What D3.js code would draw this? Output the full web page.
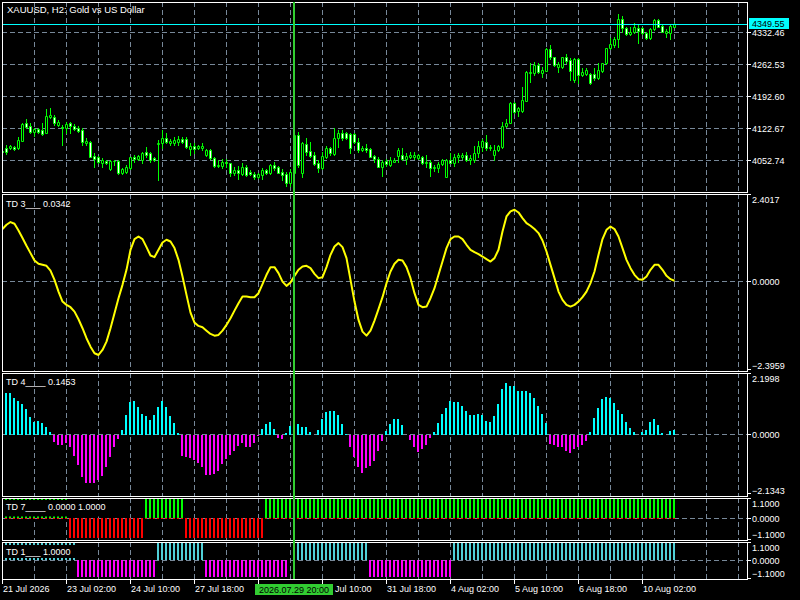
<!DOCTYPE html>
<html><head><meta charset="utf-8">
<script src="https://cdn.jsdelivr.net/npm/d3@7"></script>
<style>
body{margin:0;background:#000}
svg{display:block}
text{font-family:"Liberation Sans",Arial,sans-serif;font-size:9px;fill:#fff}
</style></head><body>
<script>
// ---------------- DATA ----------------
const title = "XAUUSD, H2:  Gold vs US Dollar";
const opens = [4073.1,4080.3,4079.0,4081.8,4080.3,4095.6,4133.6,4127.7,4115.2,4120.5,
4119.0,4113.1,4146.7,4146.7,4129.9,4126.2,4122.7,4133.6,4127.7,4124.0,
4119.0,4091.2,4093.4,4062.1,4059.3,4047.5,4051.2,4033.1,4051.2,4051.2,
4025.7,4027.8,4035.3,4060.6,4054.9,4053.4,4071.5,4069.4,4057.1,4087.7,
4089.9,4102.1,4089.9,4089.9,4093.4,4098.6,4098.6,4076.8,4084.0,4079.0,
4079.0,4064.3,4075.3,4058.4,4040.3,4041.0,4049.7,4046.2,4025.7,4031.6,
4022.8,4038.8,4027.8,4022.8,4015.6,4020.6,4031.6,4025.7,4042.5,4038.8,
4027.8,4022.8,4003.8,4025.7,4108.0,4025.7,4088.4,4073.1,4064.3,4047.5,
4036.6,4060.6,4079.0,4066.5,4100.8,4111.8,4111.8,4110.2,4110.2,4093.4,
4075.3,4080.3,4076.8,4062.1,4054.9,4038.8,4051.2,4042.5,4049.7,4062.1,
4064.3,4054.9,4059.3,4060.6,4057.1,4060.6,4046.2,4049.7,4035.3,4035.3,
4044.7,4016.9,4053.4,4047.5,4059.3,4060.6,4064.3,4053.4,4053.4,4069.4,
4082.5,4093.4,4079.0,4064.3,4075.3,4082.5,4127.7,4134.9,4178.6,4161.1,
4161.1,4183.0,4242.9,4242.9,4261.0,4244.2,4248.6,4295.3,4277.8,4256.0,
4256.0,4277.8,4271.9,4228.2,4273.5,4239.2,4241.3,4241.3,4241.3,4231.9,
4248.6,4264.7,4297.5,4304.7,4317.2,4360.9,4341.2,4328.8,4333.8,4341.2,
4341.2,4331.6,4319.4,4339.0,4359.3,4346.2,4331.6,4331.6,4344.7];
const highs = [4077.5,4086.2,4086.2,4084.0,4103.0,4134.3,4142.3,4134.9,4122.7,4123.3,
4133.6,4164.2,4166.4,4151.7,4140.8,4129.9,4137.1,4137.1,4132.1,4127.7,
4122.7,4100.8,4094.9,4069.4,4062.1,4057.1,4053.4,4053.4,4052.3,4052.3,
4035.3,4042.5,4060.6,4064.3,4064.3,4071.5,4082.5,4071.5,4060.0,4097.1,
4119.0,4111.8,4099.3,4103.0,4105.9,4103.7,4104.3,4091.2,4089.9,4086.2,
4089.9,4077.5,4076.8,4060.6,4053.4,4054.9,4054.9,4047.5,4038.8,4040.3,
4046.2,4042.5,4031.6,4027.8,4025.7,4035.3,4033.7,4044.7,4049.7,4040.3,
4033.1,4027.8,4033.1,4112.4,4115.2,4093.4,4100.8,4093.4,4071.5,4053.4,
4071.5,4084.0,4082.5,4122.7,4119.0,4119.0,4115.2,4111.8,4111.8,4100.8,
4084.0,4087.7,4079.6,4064.3,4060.6,4053.4,4054.9,4059.3,4057.1,4079.0,
4079.0,4068.1,4071.5,4071.5,4066.5,4063.2,4064.3,4053.4,4042.5,4049.7,
4055.6,4054.9,4069.4,4066.5,4069.4,4069.4,4071.5,4064.3,4084.0,4095.6,
4098.6,4108.0,4086.2,4086.2,4086.2,4137.1,4142.3,4180.8,4180.8,4169.9,
4212.3,4247.9,4264.7,4268.2,4264.7,4256.0,4297.5,4304.7,4279.1,4268.2,
4279.1,4285.0,4275.6,4275.6,4275.6,4253.8,4253.8,4244.2,4253.8,4264.7,
4266.0,4298.8,4319.4,4322.9,4372.5,4368.1,4343.4,4343.4,4352.1,4350.6,
4344.7,4333.8,4341.2,4360.9,4362.2,4347.8,4339.0,4350.6,4352.1];
const lows = [4068.7,4066.5,4076.8,4075.3,4076.8,4094.9,4122.7,4111.8,4105.9,4112.4,
4108.0,4111.8,4144.5,4129.9,4127.7,4086.2,4111.8,4111.8,4119.0,4115.2,
4086.2,4086.2,4058.9,4038.8,4046.9,4038.8,4044.7,4031.6,4042.5,4022.8,
4022.8,4025.7,4033.1,4049.7,4053.4,4046.2,4060.6,4049.7,4051.2,4009.7,
4079.0,4089.9,4086.2,4086.2,4086.2,4090.6,4079.0,4064.3,4069.4,4076.8,
4075.3,4062.1,4055.6,4038.8,4038.8,4035.3,4038.8,4018.4,4020.6,4011.2,
4020.6,4018.4,4020.6,4011.2,4013.4,4011.2,4022.8,4022.8,4031.6,4024.3,
4009.7,3996.6,3996.6,4022.8,4038.8,4015.6,4064.3,4060.6,4042.5,4027.8,
4033.1,4057.1,4064.3,4064.3,4082.5,4097.1,4098.6,4069.4,4091.2,4071.5,
4073.1,4071.5,4059.3,4049.7,4037.5,4018.4,4041.0,4040.3,4048.4,4049.7,
4053.4,4044.7,4057.1,4054.9,4055.6,4044.7,4038.8,4018.4,4030.0,4027.8,
4042.5,4016.9,4046.2,4040.3,4049.7,4054.9,4051.9,4044.7,4049.7,4060.6,
4073.7,4075.3,4075.3,4053.4,4073.1,4079.0,4124.9,4133.6,4155.5,4149.6,
4159.0,4182.3,4224.5,4239.2,4242.9,4235.4,4247.9,4273.5,4258.8,4246.4,
4253.8,4264.7,4228.2,4223.9,4222.3,4237.0,4239.2,4219.5,4228.2,4229.8,
4246.4,4263.2,4295.3,4301.0,4301.0,4333.8,4326.6,4327.2,4330.3,4308.4,
4328.1,4317.2,4317.8,4337.5,4343.4,4332.5,4322.9,4317.2,4343.4];
const closes = [4070.9,4071.5,4084.0,4076.8,4097.1,4132.1,4126.2,4114.6,4120.5,4115.2,
4109.6,4149.6,4151.7,4134.9,4137.1,4122.7,4132.1,4127.7,4120.5,4117.4,
4093.4,4095.6,4060.6,4055.6,4049.7,4053.4,4046.2,4051.9,4050.6,4024.3,
4033.1,4038.8,4059.3,4054.9,4062.1,4068.1,4064.3,4053.4,4053.4,4091.2,
4100.8,4093.4,4095.6,4097.1,4098.6,4093.4,4082.5,4084.0,4076.8,4084.0,
4084.7,4075.3,4057.1,4040.3,4042.5,4049.7,4046.2,4025.7,4031.6,4024.3,
4038.8,4020.6,4022.2,4015.6,4022.8,4031.6,4025.7,4042.5,4035.3,4025.7,
4020.6,4003.8,4027.8,4108.0,4042.5,4089.9,4071.5,4062.8,4044.7,4036.6,
4062.1,4079.0,4068.1,4100.8,4113.1,4100.8,4100.8,4079.0,4093.4,4075.3,
4080.3,4075.3,4060.6,4054.9,4038.8,4049.7,4044.7,4053.4,4053.4,4075.3,
4054.9,4062.1,4064.3,4064.3,4064.3,4046.2,4049.7,4035.3,4038.8,4044.7,
4053.4,4053.4,4047.5,4060.6,4065.0,4064.3,4053.4,4057.1,4069.4,4084.0,
4094.9,4079.0,4082.5,4075.3,4084.0,4127.7,4134.9,4178.6,4159.0,4166.4,
4184.5,4246.4,4246.4,4261.0,4246.4,4250.1,4295.3,4277.8,4261.0,4263.2,
4277.8,4270.4,4248.6,4273.5,4239.2,4246.4,4250.1,4221.0,4231.9,4250.1,
4264.7,4297.5,4306.9,4317.2,4360.9,4341.2,4328.8,4333.8,4344.7,4336.0,
4330.3,4319.4,4339.0,4359.3,4344.7,4333.8,4336.0,4346.2,4349.55];
const lastPrice = 4349.55;
const priceTicks = [4052.74,4122.67,4192.60,4262.53,4332.46];

const td3 = [1.456,1.574,1.649,1.602,1.417,1.208,0.995,0.794,0.590,0.499,
0.471,0.444,0.314,0.058,-0.265,-0.540,-0.631,-0.695,-0.816,-1.026,
-1.274,-1.549,-1.781,-1.963,-2.010,-1.872,-1.643,-1.274,-0.860,-0.447,
-0.080,0.334,0.885,1.180,1.252,1.180,0.959,0.728,0.684,0.885,
1.086,1.161,1.114,0.932,0.609,0.149,-0.356,-0.844,-1.119,-1.210,
-1.246,-1.340,-1.431,-1.478,-1.458,-1.340,-1.183,-0.998,-0.789,-0.584,
-0.403,-0.403,-0.419,-0.419,-0.309,-0.061,0.196,0.408,0.408,0.243,
0.011,-0.108,-0.017,0.168,0.334,0.425,0.444,0.380,0.223,0.105,
0.132,0.408,0.747,0.976,1.070,0.959,0.656,0.058,-0.540,-1.045,
-1.367,-1.478,-1.340,-1.064,-0.750,-0.419,-0.033,0.287,0.499,0.609,
0.590,0.408,0.105,-0.309,-0.631,-0.695,-0.678,-0.447,-0.171,0.196,
0.562,0.932,1.180,1.252,1.252,1.180,1.023,0.885,0.822,0.766,
0.700,0.629,0.562,0.656,0.885,1.390,1.803,1.941,1.988,1.913,
1.759,1.621,1.547,1.456,1.345,1.141,0.838,0.471,0.105,-0.265,
-0.494,-0.631,-0.678,-0.631,-0.540,-0.419,-0.265,-0.033,0.287,0.747,
1.180,1.436,1.527,1.456,1.252,0.932,0.609,0.380,0.196,0.077,
0.058,0.149,0.334,0.471,0.471,0.334,0.168,0.077,0.0342];
const td3Ticks = [2.4017, 0, -2.3959];

const td4 = [1.50,1.50,1.50,1.306,1.209,1.088,0.895,0.629,0.447,0.471,
0.411,0.242,0.085,-0.278,-0.399,-0.399,-0.314,-0.484,-0.798,-1.124,
-1.572,-1.789,-1.765,-1.789,-1.668,-1.523,-1.185,-0.822,-0.484,-0.193,
0.145,0.689,1.149,1.197,0.991,0.749,0.653,0.508,0.689,0.967,
1.197,0.967,0.653,0.411,0.048,-0.798,-0.846,-0.883,-0.943,-1.064,
-1.209,-1.487,-1.487,-1.451,-1.330,-1.088,-0.919,-0.762,-0.604,-0.435,
-0.314,-0.484,-0.484,-0.314,-0.073,0.169,0.363,0.423,0.169,-0.133,
-0.181,0.048,0.290,0.447,0.363,0.242,0.242,0.085,-0.036,0.145,
0.532,0.810,0.846,0.846,0.689,0.363,0.0,-0.484,-0.846,-1.185,
-1.402,-1.245,-1.161,-0.967,-0.604,-0.242,0.121,0.363,0.532,0.532,
0.326,-0.02,-0.218,-0.484,-0.641,-0.556,-0.399,-0.157,0.085,0.411,
0.725,0.931,1.197,1.149,1.149,1.028,0.834,0.689,0.689,0.725,
0.689,0.471,0.447,0.653,1.088,1.620,1.838,1.741,1.741,1.572,
1.572,1.560,1.475,1.294,1.016,0.713,0.411,-0.363,-0.399,-0.459,
-0.484,-0.604,-0.677,-0.556,-0.459,-0.399,-0.242,0.085,0.568,0.931,
1.257,1.354,1.318,1.137,0.870,0.713,0.423,0.206,0.085,-0.02,
0.085,0.145,0.423,0.532,0.326,0.048,-0.036,0.121,0.1453];
const td4Ticks = [2.1998, 0, -2.1343];

const td7 = [1,1,1,1,1,1,1,1,1,1, 1,1,1,1,1,1,1,-1,-1,-1,
-1,-1,-1,-1,-1,-1,-1,-1,-1,-1, -1,-1,-1,-1,-1,-1,1,1,1,1,
1,1,1,1,1,1,-1,-1,-1,-1, -1,-1,-1,-1,-1,-1,-1,-1,-1,-1,
-1,-1,-1,-1,-1,-1,1,1,1,1, 1,1,1,1,1,1,1,1,1,1,
1,1,1,1,1,1,1,1,1,1, 1,1,1,1,1,1,1,1,1,1,
1,1,1,1,1,1,1,1,1,1, 1,1,1,1,1,1,1,1,1,1,
1,1,1,1,1,1,1,1,1,1, 1,1,1,1,1,1,1,1,1,1,
1,1,1,1,1,1,1,1,1,1, 1,1,1,1,1,1,1,1,1,1,
1,1,1,1,1,1,1,1,1];
const td7Ticks = [1.1, 0, -1.1];

const td1 = [1,1,1,1,1,1,1,1,1,1, 1,1,1,1,1,1,1,1,1,-1,
-1,-1,-1,-1,-1,-1,-1,-1,-1,-1, -1,-1,-1,-1,-1,-1,-1,-1,-1,1,
1,1,1,1,1,1,1,1,1,1, 1,-1,-1,-1,-1,-1,-1,-1,-1,-1,
-1,-1,-1,-1,-1,-1,-1,-1,-1,-1, -1,-1,0,1,1,1,1,1,1,1,
1,1,1,1,1,1,1,1,1,1, 1,1,-1,-1,-1,-1,-1,-1,-1,-1,
-1,-1,-1,-1,-1,-1,-1,-1,-1,-1, -1,-1,-1,1,1,1,1,1,1,1,
1,1,1,1,1,1,1,1,1,1, 1,1,1,1,1,1,1,1,1,1,
1,1,1,1,1,1,1,1,1,1, 1,1,1,1,1,1,1,1,1,1,
1,1,1,1,1,1,1,1,1];
const td1Ticks = [1.1, 0, -1.1];

// time labels at every 16th bar; null = hidden behind the cursor label, partial text where cut
const timeLabels = ["21 Jul 2026","23 Jul 02:00","24 Jul 10:00","27 Jul 18:00",null,
  "Jul 10:00","31 Jul 18:00","4 Aug 02:00","5 Aug 10:00","6 Aug 18:00","10 Aug 02:00"];
const cursorIndex = 73;
const cursorLabel = "2026.07.29 20:00";
const legends = {td3:"TD 3___ 0.0342", td4:"TD 4____ 0.1453", td7:"TD 7____ 0.0000 1.0000", td1:"TD 1___ 1.0000"};

// ---------------- LAYOUT ----------------
const L = 2, R = 747;
const P = {
  main:{top:2,bottom:192},
  td3:{top:194,bottom:371},
  td4:{top:373,bottom:496},
  td7:{top:498,bottom:540},
  td1:{top:542,bottom:579}
};
const GRID = "#778899", LIME = "#00ff00", CURSOR = "#32cd32";

const svg = d3.select("body").append("svg").attr("width",800).attr("height",600)
  .style("background","#000");
svg.append("rect").attr("width",800).attr("height",600).attr("fill","#000");

const n = opens.length;
const x = d3.scaleLinear().domain([0, n-1]).range([2, 2+4*(n-1)]);
const yMain = d3.scaleLinear().domain([3983.46, 4398.68]).range([192, 2]);
const y3 = d3.scaleLinear().domain([-2.3959, 2.4017]).range([369, 194.7]);
const y4 = d3.scaleLinear().domain([-2.1343, 2.1998]).range([493, 373.5]);
const y7 = d3.scaleLinear().domain([-1.1, 1.1]).range([539.5, 497]);
const y1 = d3.scaleLinear().domain([-1.1, 1.1]).range([578.4, 541.6]);

const defs = svg.append("defs");
function panelGroup(key){
  const p = P[key];
  defs.append("clipPath").attr("id","clip-"+key).append("rect")
    .attr("x", L+1).attr("y", p.top+1).attr("width", R-L-1).attr("height", p.bottom-p.top-1);
  const g = svg.append("g").attr("clip-path","url(#clip-"+key+")");
  const gridIdx = d3.range(8, 186, 8);
  g.selectAll("line.vg").data(gridIdx).join("line")
    .attr("x1", d=>Math.round(x(d))+0.5).attr("x2", d=>Math.round(x(d))+0.5)
    .attr("y1", p.top).attr("y2", p.bottom)
    .attr("stroke", GRID).attr("stroke-dasharray","5,3");
  return g;
}
function hgrid(g, y){
  g.append("line").attr("x1",L).attr("x2",R).attr("y1",Math.floor(y)+0.5).attr("y2",Math.floor(y)+0.5)
    .attr("stroke",GRID).attr("stroke-dasharray","5,3");
}

// ---------------- MAIN ----------------
const gm = panelGroup("main");
priceTicks.forEach(v => hgrid(gm, yMain(v)));
const idx = d3.range(n);
gm.selectAll("line.wick").data(idx).join("line")
  .attr("x1", i=>Math.round(x(i))+0.5).attr("x2", i=>Math.round(x(i))+0.5)
  .attr("y1", i=>Math.round(yMain(highs[i]))).attr("y2", i=>Math.round(yMain(lows[i]))+1)
  .attr("stroke", LIME);
gm.selectAll("path.body").data(idx).join("path")
  .attr("d", i=>{
    const cx = Math.round(x(i));
    const a = Math.round(yMain(opens[i])), b = Math.round(yMain(closes[i]));
    const t = Math.min(a,b)+0.5, btm = Math.max(a,b)+0.5;
    return `M${cx-0.5},${t}H${cx+1.5}V${btm}H${cx-0.5}Z`;
  })
  .attr("fill", i=> closes[i] >= opens[i] ? "#000" : "#fff")
  .attr("stroke", LIME);
gm.append("line").attr("x1",L).attr("x2",R)
  .attr("y1",Math.floor(yMain(lastPrice))+0.5).attr("y2",Math.floor(yMain(lastPrice))+0.5)
  .attr("stroke","#00ffff");

// ---------------- TD3 ----------------
const g3 = panelGroup("td3");
hgrid(g3, y3(0));
g3.append("path").datum(td3)
  .attr("d", d3.line().x((d,i)=>Math.round(x(i))+0.5).y(d=>y3(d)))
  .attr("fill","none").attr("stroke","#ffff00").attr("stroke-width",2).attr("stroke-linejoin","round");

// ---------------- TD4 ----------------
const g4 = panelGroup("td4");
hgrid(g4, y4(0));
const z4 = Math.floor(y4(0));
g4.selectAll("rect.h").data(idx).join("rect")
  .attr("x", i=>Math.round(x(i))-1).attr("width",2)
  .attr("y", i=> td4[i]>=0 ? Math.round(y4(td4[i])) : z4+1)
  .attr("height", i=> td4[i]>=0 ? Math.max(0, z4+1-Math.round(y4(td4[i]))) : Math.max(0, Math.round(y4(td4[i]))-z4-1))
  .attr("fill", i=> td4[i]>=0 ? "#00ffff" : "#ff00ff");

// ---------------- TD7 ----------------
const g7 = panelGroup("td7");
const z7 = Math.floor(y7(0));
hgrid(g7, y7(0));
g7.selectAll("rect.h").data(idx).join("rect")
  .attr("x", i=>Math.round(x(i))-1).attr("width",2)
  .attr("y", i=> td7[i]>0 ? Math.round(y7(1)) : z7)
  .attr("height", i=> td7[i]>0 ? z7-Math.round(y7(1)) : Math.round(y7(-1))-z7)
  .attr("fill", i=> td7[i]>0 ? LIME : "#ff0000");
g7.selectAll("rect.z").data(idx.filter(i=>td7[i]>0)).join("rect")
  .attr("x", i=>Math.round(x(i))-1).attr("width",2).attr("y",z7).attr("height",1).attr("fill","#ff0000");

// ---------------- TD1 ----------------
const g1 = panelGroup("td1");
const z1 = Math.floor(y1(0));
hgrid(g1, y1(0));
g1.selectAll("rect.h").data(idx.filter(i=>td1[i]!==0)).join("rect")
  .attr("x", i=>Math.round(x(i))-1).attr("width",2)
  .attr("y", i=> td1[i]>0 ? Math.round(y1(1)) : z1)
  .attr("height", i=> td1[i]>0 ? z1-Math.round(y1(1)) : Math.round(y1(-1))-z1)
  .attr("fill", i=> td1[i]>0 ? "#50d0d8" : "#ff00ff");

// ---------------- BORDERS ----------------
Object.values(P).forEach(p=>{
  svg.append("rect").attr("x",L+0.5).attr("y",p.top+0.5).attr("width",R-L).attr("height",p.bottom-p.top)
    .attr("fill","none").attr("stroke","#fff");
});

// ---------------- LEGENDS ----------------
svg.append("text").attr("x",7).attr("y",13).style("font-size","9.5px").text(title);
svg.append("text").attr("x",6).attr("y",207).text(legends.td3);
svg.append("text").attr("x",6).attr("y",385).text(legends.td4);
svg.append("rect").attr("x",5).attr("y",500).attr("width",104).attr("height",16.5).attr("fill","#000");
svg.append("text").attr("x",6).attr("y",509.5).text(legends.td7);
svg.append("rect").attr("x",5).attr("y",545).attr("width",70).attr("height",13).attr("fill","#000");
svg.append("text").attr("x",6).attr("y",555).text(legends.td1);

// ---------------- RIGHT AXES ----------------
const fmt2 = d3.format(".2f"), fmt4 = d3.format(".4f");
priceTicks.forEach(v=>{
  const y = Math.floor(yMain(v))+0.5;
  svg.append("line").attr("x1",R).attr("x2",R+4).attr("y1",y).attr("y2",y).attr("stroke","#fff");
  svg.append("text").attr("x",752).attr("y",y+3.8).text(fmt2(v));
});
function subAxis(key, scale, ticks){
  const p = P[key];
  ticks.forEach(v=>{
    const y = Math.min(Math.max(Math.floor(scale(v))+0.5, p.top+0.5), p.bottom-0.5);
    svg.append("line").attr("x1",R).attr("x2",R+4).attr("y1",y).attr("y2",y).attr("stroke","#fff");
    const ty = Math.min(Math.max(scale(v)+3.5, p.top+8.5), p.bottom-2.5);
    svg.append("text").attr("x",752).attr("y",ty).text(fmt4(v).replace("-0.0000","0.0000"));
  });
}
subAxis("td3", y3, td3Ticks);
subAxis("td4", y4, td4Ticks);
subAxis("td7", y7, td7Ticks);
subAxis("td1", y1, td1Ticks);
const yl = Math.floor(yMain(lastPrice));
svg.append("rect").attr("x",749).attr("y",yl-6).attr("width",40).attr("height",11).attr("fill","#00ffff");
svg.append("text").attr("x",752).attr("y",yl+2.5).style("fill","#000").text(fmt2(lastPrice));

// ---------------- TIME AXIS ----------------
timeLabels.forEach((t,k)=>{
  const xx = Math.round(x(16*k))+0.5;
  svg.append("line").attr("x1",xx).attr("x2",xx).attr("y1",579).attr("y2",584).attr("stroke","#fff");
  if (t === null) return;
  const shift = (t === "Jul 10:00") ? 12.5 : 0.5;
  svg.append("text").attr("x",xx+shift).attr("y",592).text(t);
});

// ---------------- CURSOR ----------------
const cxl = x(cursorIndex);
svg.append("line").attr("x1",cxl).attr("x2",cxl).attr("y1",2).attr("y2",579)
  .attr("stroke",CURSOR).attr("stroke-width",2);
svg.append("rect").attr("x",cxl-39).attr("y",584).attr("width",78).attr("height",11).attr("fill",CURSOR);
svg.append("text").attr("x",cxl).attr("y",592.5).attr("text-anchor","middle").style("fill","#000").text(cursorLabel);
</script>
</body></html>
